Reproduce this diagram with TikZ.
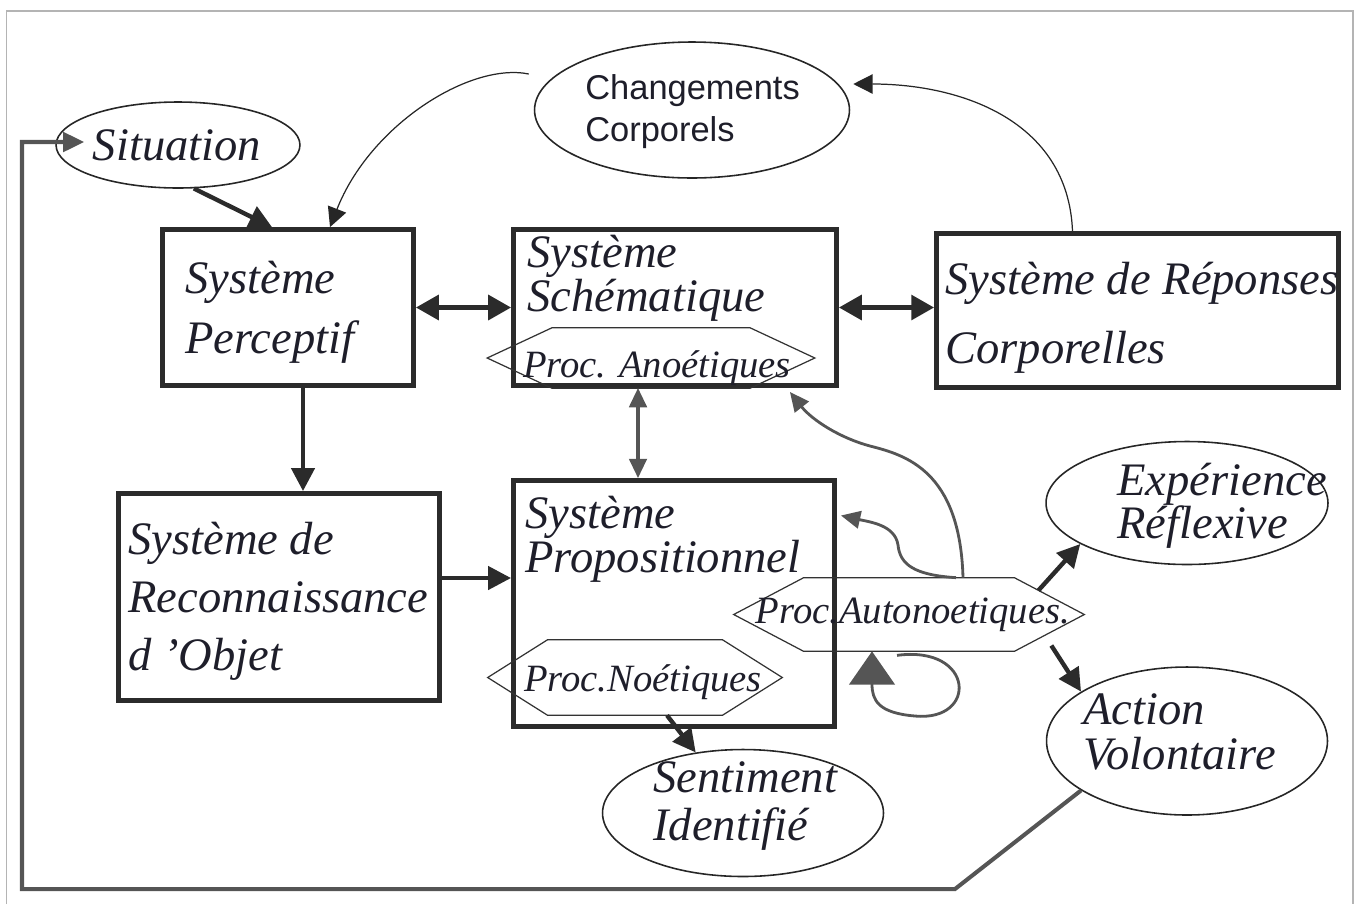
\documentclass[tikz,border=0pt]{standalone}
\usepackage{fontspec}
\setmainfont{Liberation Serif}
\newfontfamily\arialfont{Liberation Sans}
\usetikzlibrary{shapes.geometric,arrows.meta,calc}

\definecolor{boxgray}{HTML}{2B2B2B}
\definecolor{arrgray}{HTML}{555555}
\definecolor{txtcol}{HTML}{1E1E2A}
\definecolor{framegray}{HTML}{B4B4B4}

\tikzset{
	sysbox/.style={draw=boxgray, line width=2.8pt, rectangle, inner sep=0pt},
	bubble/.style={draw=black!85, line width=0.9pt, ellipse, inner sep=0pt},
	hexa/.style={rectangle, inner sep=0pt},
	hexline/.style={draw=black!80, line width=0.7pt},
	bigtxt/.style={text=txtcol, font=\itshape\fontsize{26.5}{#1}\selectfont, align=left, inner sep=0pt, anchor=west},
	bigtxt/.default=33,
	proctxt/.style={text=txtcol, font=\itshape\fontsize{22}{26}\selectfont, inner sep=0pt},
	fat/.style={draw=boxgray, line width=2.5pt, -{Triangle[length=13pt,width=13pt]}},
	fatboth/.style={draw=boxgray, line width=2.5pt, {Triangle[length=13pt,width=14pt]}-{Triangle[length=13pt,width=14pt]}},
	grayboth/.style={draw=arrgray, line width=1.8pt, {Triangle[length=11pt,width=10pt]}-{Triangle[length=11pt,width=10pt]}},
	graycurve/.style={draw=arrgray, line width=1.6pt, -{Triangle[length=11pt,width=10pt]}},
	thinarr/.style={draw=black!85, line width=0.7pt, -{Triangle[length=11pt,width=11pt]}},
	loopline/.style={draw=arrgray, line width=1.6pt, -{Triangle[length=19pt,width=26pt]}},
	feedback/.style={draw=arrgray, line width=2.3pt, -{Triangle[length=12pt,width=11pt]}}
}

% hexagon drawn round an empty node
\newcommand\hexshape[2]{\draw[hexline] (#1.west) -- ($(#1.north west)+(#2,0)$) -- ($(#1.north east)+(-#2,0)$) -- (#1.east) -- ($(#1.south east)+(-#2,0)$) -- ($(#1.south west)+(#2,0)$) -- cycle;}

\begin{document}
\begin{tikzpicture}[x=0.02cm,y=-0.02cm]
	\useasboundingbox (0,0) rectangle (1361,904);
	\draw[framegray, line width=1pt] (6.5,904) -- (6.5,11) -- (1353,11) -- (1353,904);

	% systems
	\node[sysbox, minimum width=5.02cm, minimum height=3.12cm] (perc) at (288,307.5) {};
	\node[sysbox, minimum width=6.46cm, minimum height=3.12cm] (schem) at (675,307.5) {};
	\node[sysbox, minimum width=8.04cm, minimum height=3.08cm] (repon) at (1137.5,310.5) {};
	\node[sysbox, minimum width=6.42cm, minimum height=4.14cm] (recon) at (279,597) {};
	\node[sysbox, minimum width=6.42cm, minimum height=4.92cm] (propo) at (674,603.5) {};

	% ellipses
	\node[bubble, minimum width=4.88cm, minimum height=1.72cm] (sit) at (178,145) {};
	\node[bubble, minimum width=6.3cm, minimum height=2.72cm] (chang) at (692,110) {};
	\node[bubble, minimum width=5.64cm, minimum height=2.46cm] (exper) at (1187,503) {};
	\node[bubble, minimum width=5.62cm, minimum height=2.96cm] (action) at (1187,741) {};
	\node[bubble, minimum width=5.62cm, minimum height=2.54cm] (senti) at (743,813) {};

	% processes
	\node[hexa, minimum width=6.54cm, minimum height=1.2cm] (anoe) at (651,358) {};
	\node[hexa, minimum width=5.88cm, minimum height=1.5cm] (noet) at (635,677.5) {};
	\node[hexa, minimum width=7cm, minimum height=1.46cm] (auton) at (909,614.5) {};
	\hexshape{anoe}{65}
	\hexshape{noet}{60}
	\hexshape{auton}{70}

	% texts
	\node[bigtxt=34] (percT) at (185,312) {Système\\Perceptif};
	\node[bigtxt=23] (schemT) at (527,278) {Système\\Schématique};
	\node[bigtxt=39] (reponT) at (945,318) {Système de Réponses\\Corporelles};
	\node[bigtxt=33] (reconT) at (128,601) {Système de\\Reconnaissance\\d ’Objet};
	\node[bigtxt=24] (propoT) at (525,539) {Système\\Propositionnel};
	\node[bigtxt, anchor=center] (sitT) at (177,145) {Situation};
	\node[text=txtcol, font=\arialfont\fontsize{19.6}{24}\selectfont, align=left, inner sep=0pt, anchor=west] (changT) at (585,112) {Changements\\Corporels};
	\node[bigtxt=24.5] (experT) at (1117,506) {Expérience\\Réflexive};
	\node[bigtxt=25.6] (actionT) at (1083,732) {Action\\Volontaire};
	\node[bigtxt=27.3] (sentiT) at (653,806) {Sentiment\\Identifié};
	\node[proctxt] (anoeT) at (657,368) {Proc. Anoétiques};
	\node[proctxt] (noetT) at (643,682) {Proc.Noétiques};
	\node[proctxt] (autonT) at (913,615) {Proc.Autonoetiques.};

	% connectors
	\draw[fat] (sit.290) -- ($(perc.north)+(-16,0)$);
	\draw[thinarr] ($(chang.west)+(-5,-36)$) .. controls (470,62) and (370,125) .. ($(perc.north)+(42,0)$);
	\draw[thinarr] ($(repon.north)+(-65,0)$) .. controls (1068,120) and (960,84) .. ($(chang.east)+(3,-26)$);
	\draw[fatboth] (perc.east) -- (schem.west);
	\draw[fatboth] (schem.east) -- (schem.east -| repon.west);
	\coordinate (sp) at ($(schem.south)+(-37,0)$);
	\draw[grayboth] (sp) -- (sp |- propo.north);
	\coordinate (pp) at ($(perc.south)+(15,0)$);
	\draw[fat] (pp) -- (pp |- recon.north);
	\coordinate (rp) at ($(recon.east)+(0,-19)$);
	\draw[fat] (rp) -- (rp -| propo.west);
	\draw[fat] ($(noet.south)+(32,0)$) -- (senti.128);
	\draw[fat] ($(auton.east)+(-46,-24)$) -- (exper.201);
	\draw[fat] ($(auton.east)+(-33,31)$) -- (action.155);
	\draw[graycurve] ($(auton.north)+(54,0)$) .. controls (960,470) and (905,455) .. (870,446) .. controls (840,438) and (812,420) .. ($(schem.south east)+(-49,4)$);
	\draw[graycurve] ($(auton.north)+(47,0)$) .. controls (915,575) and (900,565) .. (898,545) .. controls (895,525) and (870,522) .. ($(propo.east)+(4,-88)$);
	\draw[loopline] ($(auton.south)+(-12,4)$) .. controls (975,645) and (978,722) .. (915,716) .. controls (878,713) and (872,700) .. ($(auton.south)+(-37,0)$);

	% back to the situation
	\coordinate (fbA) at (955,889);
	\coordinate (fbB) at (22,889);
	\draw[feedback] (action.205) -- (fbA) -- (fbB) |- ($(sit.west)+(29,-3)$);
\end{tikzpicture}
\end{document}
